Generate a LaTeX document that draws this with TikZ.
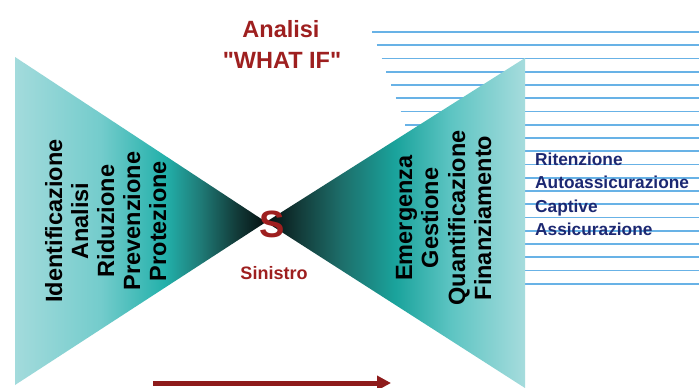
\documentclass[tikz,border=0pt]{standalone}
\usepackage{fontspec}
\setmainfont{Liberation Sans}[Ligatures=TeXOff]
\usetikzlibrary{arrows.meta}
\definecolor{wred}{HTML}{9E1F1F}
\definecolor{arrred}{HTML}{8E1B1B}
\definecolor{navy}{HTML}{1C2872}
\definecolor{lineblue}{HTML}{68B2E6}
\definecolor{Lz}{HTML}{A3DBDC}
\definecolor{La}{HTML}{74CCCC}
\definecolor{Lb}{HTML}{22B0AA}
\definecolor{Lc}{HTML}{1F7A76}
\definecolor{Ld}{HTML}{123C3A}
\definecolor{Le}{HTML}{050F0F}
\definecolor{Ra}{HTML}{133C3A}
\definecolor{Rb}{HTML}{1D6E6A}
\definecolor{Rc}{HTML}{1AA39C}
\definecolor{Rd}{HTML}{5CC4C2}
\definecolor{Re}{HTML}{A6DCDD}
\pgfdeclarehorizontalshading{leftfan}{100bp}{color(0bp)=(Lz); color(25bp)=(Lz); color(42bp)=(La); color(55bp)=(Lb); color(62bp)=(Lc); color(69bp)=(Ld); color(75bp)=(Le); color(100bp)=(Le)}
\pgfdeclarehorizontalshading{rightfan}{100bp}{color(0bp)=(Le); color(25bp)=(Le); color(31.5bp)=(Ra); color(39.5bp)=(Rb); color(50bp)=(Rc); color(60.5bp)=(Rd); color(75bp)=(Re); color(100bp)=(Re)}
\begin{document}
\begin{tikzpicture}[x=1pt,y=-1pt,
  rottext/.style={rotate=90,anchor=base,inner sep=0pt,font=\fontsize{23.5}{27}\selectfont\bfseries,text=black},
  listtext/.style={anchor=base west,inner sep=0pt,font=\fontsize{17.3}{20}\selectfont\bfseries,text=navy},
  redtext/.style={anchor=base,inner sep=0pt,text=wred,font=\fontsize{23.5}{27}\selectfont\bfseries},
  hline/.style={draw=lineblue,line width=1.7pt}]
\useasboundingbox (0,0) rectangle (699,388);
\fill[white] (0,0) rectangle (699,388);
% blue lines
\foreach \k in {0,...,19}{
  \pgfmathsetmacro{\yy}{32+13.25*\k}
  \pgfmathsetmacro{\xx}{372+0.36*(\yy-32)}
  \coordinate (ls\k) at (\xx,\yy);
  \coordinate (le\k) at (699,\yy);
  \draw[hline] (ls\k) -- (le\k);
}
% triangles
\coordinate (lt) at (15,57);
\coordinate (lb) at (15,385);
\coordinate (ap) at (266,222);
\coordinate (rt) at (525,58);
\coordinate (rb) at (525,388);
\shade[shading=leftfan] (lt) -- (ap) -- (lb) -- cycle;
\shade[shading=rightfan] (rt) -- (ap) -- (rb) -- cycle;
% titles
\node[redtext] (an) at (281,37) {Analisi};
\node[redtext] (wi) at (282,68) {"WHAT IF"};
% S
\node[redtext,font=\fontsize{38}{40}\selectfont\bfseries] (S) at (272,237) {S};
\node[redtext,font=\fontsize{18}{20}\selectfont\bfseries] (sin) at (274,279) {Sinistro};
% left rotated
\node[rottext] (t1) at (62,221) {Identificazione};
\node[rottext] (t2) at (88,221) {Analisi};
\node[rottext] (t3) at (114,221) {Riduzione};
\node[rottext] (t4) at (140,221) {Prevenzione};
\node[rottext] (t5) at (166,221) {Protezione};
% right rotated
\node[rottext] (u1) at (412,218) {Emergenza};
\node[rottext] (u2) at (438,218) {Gestione};
\node[rottext] (u3) at (465,218) {Quantificazione};
\node[rottext] (u4) at (491,218) {Finanziamento};
% list
\node[listtext] (r1) at (535,165) {Ritenzione};
\node[listtext] (r2) at (535,188) {Autoassicurazione};
\node[listtext] (r3) at (535,212) {Captive};
\node[listtext] (r4) at (535,235) {Assicurazione};
% arrow
\coordinate (a1) at (153,383);
\coordinate (a2) at (391,383);
\draw[arrred,line width=5pt,-{Triangle[length=14pt,width=14pt]}] (a1) -- (a2);
\end{tikzpicture}
\end{document}
